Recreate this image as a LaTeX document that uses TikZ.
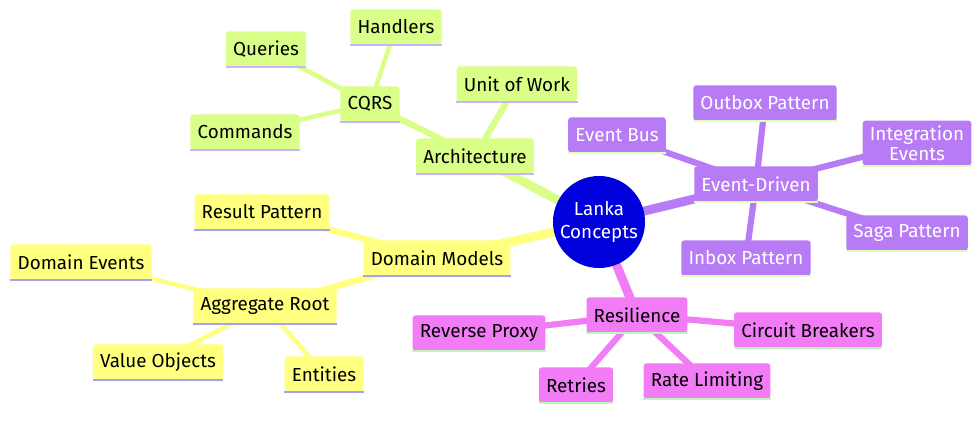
\documentclass[tikz,border=0pt]{standalone}
\usepackage{fontspec}
\setmainfont{Fira Sans}
\usetikzlibrary{backgrounds}
\definecolor{archfill}{HTML}{D9FF88}
\definecolor{archline}{HTML}{C7B4FA}
\definecolor{domfill}{HTML}{FFFF80}
\definecolor{domline}{HTML}{A3A3F5}
\definecolor{evtfill}{HTML}{B77CF5}
\definecolor{evtline}{HTML}{DDFFBB}
\definecolor{resfill}{HTML}{F27CF5}
\definecolor{resline}{HTML}{BDF5BD}
\definecolor{rootfill}{HTML}{0000DD}
\tikzset{
  mm/.style n args={3}{fill=#1, text=#2, rounded corners=2pt, inner xsep=0.18cm,
    minimum height=0.88cm, align=center, font=\fontsize{13.4}{14.5}\selectfont,
    append after command={(\tikzlastnode.south west) edge[draw=#3, line width=1.3pt, rounded corners=0pt] (\tikzlastnode.south east)}},
  arch/.style={mm={archfill}{black}{archline}},
  dom/.style={mm={domfill}{black}{domline}},
  evt/.style={mm={evtfill}{white}{evtline}},
  res/.style={mm={resfill}{black}{resline}},
  lvlone/.style={line width=6.4pt},
  lvltwo/.style={line width=4.4pt},
  lvlthree/.style={line width=3.2pt},
}
\begin{document}
\begin{tikzpicture}[x=0.025cm, y=-0.025cm]
\useasboundingbox (0,0) rectangle (978,433);
% root
\node[circle, fill=rootfill, text=white, minimum size=2.3cm, inner sep=0pt, align=center,
  font=\fontsize{13.4}{16}\selectfont] (root) at (599,222) {Lanka\\Concepts};
% architecture
\node[arch] (arch) at (475,156) {Architecture};
\node[arch] (cqrs) at (370,104) {CQRS};
\node[arch] (uow) at (517,84) {Unit of Work};
\node[arch] (handlers) at (396,27) {Handlers};
\node[arch] (queries) at (266,49) {Queries};
\node[arch] (commands) at (245,132) {Commands};
% domain models
\node[dom] (dommod) at (437,258) {Domain Models};
\node[dom] (result) at (262,212) {Result Pattern};
\node[dom] (aggr) at (265,306) {Aggregate Root};
\node[dom] (domevt) at (81,262) {Domain Events};
\node[dom] (valobj) at (158,362) {Value Objects};
\node[dom] (entities) at (324,374) {Entities};
% event-driven
\node[evt] (evtdrv) at (756,184) {Event-Driven};
\node[evt] (outbox) at (765,103) {Outbox Pattern};
\node[evt] (evtbus) at (617,135) {Event Bus};
\node[evt] (integ) at (917,143) {Integration\\Events};
\node[evt] (saga) at (907,233) {Saga Pattern};
\node[evt] (inbox) at (746,258) {Inbox Pattern};
% resilience
\node[res] (resil) at (637,315) {Resilience};
\node[res] (revproxy) at (479,333) {Reverse Proxy};
\node[res] (circuit) at (808,330) {Circuit Breakers};
\node[res] (retries) at (576,385) {Retries};
\node[res] (ratelim) at (707,381) {Rate Limiting};
\begin{scope}[on background layer]
\draw[archfill, lvlone] (root.center) -- (arch.center);
\draw[archfill, lvltwo] (arch.center) -- (cqrs.center);
\draw[archfill, lvltwo] (arch.center) -- (uow.center);
\draw[archfill, lvlthree] (cqrs.center) -- (handlers.center);
\draw[archfill, lvlthree] (cqrs.center) -- (queries.center);
\draw[archfill, lvlthree] (cqrs.center) -- (commands.center);
\draw[domfill, lvlone] (root.center) -- (dommod.center);
\draw[domfill, lvltwo] (dommod.center) -- (result.center);
\draw[domfill, lvltwo] (dommod.center) -- (aggr.center);
\draw[domfill, lvlthree] (aggr.center) -- (domevt.center);
\draw[domfill, lvlthree] (aggr.center) -- (valobj.center);
\draw[domfill, lvlthree] (aggr.center) -- (entities.center);
\draw[evtfill, lvlone] (root.center) -- (evtdrv.center);
\foreach \leaf in {outbox, evtbus, integ, saga, inbox}
  \draw[evtfill, lvltwo] (evtdrv.center) -- (\leaf.center);
\draw[resfill, lvlone] (root.center) -- (resil.center);
\foreach \leaf in {revproxy, circuit, retries, ratelim}
  \draw[resfill, lvltwo] (resil.center) -- (\leaf.center);
\end{scope}
\end{tikzpicture}
\end{document}
